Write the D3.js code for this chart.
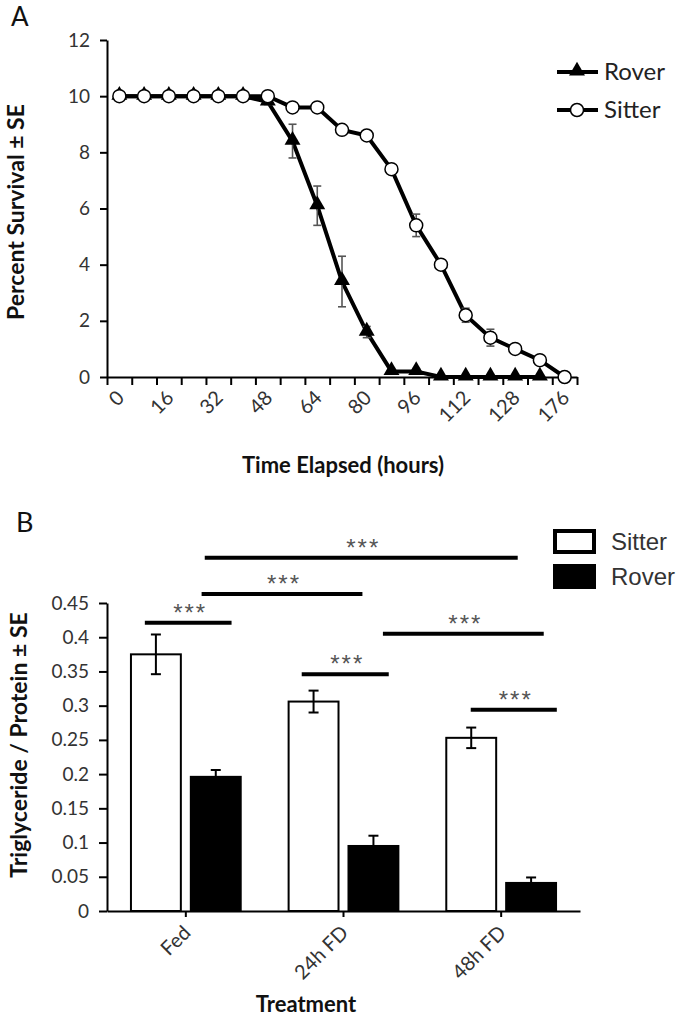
<!DOCTYPE html>
<html>
<head>
<meta charset="utf-8">
<script src="https://d3js.org/d3.v7.min.js"></script>
<style>
  body { margin: 0; background: #fff; }
  svg text { font-family: Lato, "Open Sans", sans-serif; }
  .tick text { fill: #333; }
  .axis path, .axis line { stroke: #000; stroke-width: 2; }
</style>
</head>
<body>
<svg id="chart" width="695" height="1020"></svg>
<script>
// ---- panel A: survival ----
var hourLabels = ["0", "16", "32", "48", "64", "80", "96", "112", "128", "176"]; // every 2nd category
var nTimes = 19;
var roverMean = [10, 10, 10, 10, 10, 10, 9.8, 8.4, 6.1, 3.4, 1.6, 0.2, 0.2, 0, 0, 0, 0, 0];
var roverSE   = [0, 0, 0, 0, 0, 0, 0.1, 0.6, 0.7, 0.9, 0.2, 0.1, 0.1, 0, 0, 0, 0, 0];
var sitterMean = [10, 10, 10, 10, 10, 10, 10, 9.6, 9.6, 8.8, 8.6, 7.4, 5.4, 4.0, 2.2, 1.4, 1.0, 0.6, 0];
var sitterSE   = [0, 0, 0, 0, 0, 0, 0, 0.1, 0.1, 0.1, 0.1, 0.15, 0.4, 0.15, 0.25, 0.3, 0.15, 0.1, 0];

// ---- panel B: triglyceride ----
var treatments = ["Fed", "24h FD", "48h FD"];
var strains = ["Sitter", "Rover"];
var sitterTG = [0.375, 0.306, 0.253];
var sitterTGse = [0.029, 0.016, 0.015];
var roverTG = [0.196, 0.095, 0.041];
var roverTGse = [0.010, 0.015, 0.008];
// significance bars: from / to in category units, height in data units
var sigFrom = [0.12, 0.10, -0.26, 0.735, 1.25, 1.807];
var sigTo   = [2.105, 1.12, 0.29, 1.287, 2.27, 2.353];
var sigY    = [0.516, 0.463, 0.421, 0.346, 0.405, 0.294];

var svg = d3.select("#chart");

// ================= A =================
var xA = d3.scaleLinear().domain([0, nTimes]).range([107, 577]);
var yA = d3.scaleLinear().domain([0, 12]).range([377, 40]);
var gA = svg.append("g");

gA.append("g").attr("class", "axis")
  .attr("transform", "translate(0," + yA(0) + ")")
  .call(d3.axisBottom(xA).tickValues(d3.range(nTimes + 1)).tickFormat("").tickSize(8).tickSizeOuter(0));

gA.append("g").attr("class", "axis")
  .attr("transform", "translate(" + xA(0) + ",0)")
  .call(d3.axisLeft(yA).ticks(6).tickSize(7).tickSizeOuter(0).tickPadding(10))
  .selectAll("text").style("font-size", "19px");

gA.selectAll(".xlab").data(hourLabels).enter().append("text")
  .attr("class", "xlab")
  .attr("transform", function (d, i) { return "translate(" + (xA(2 * i + 0.5) + 6) + ",399) rotate(-45)"; })
  .attr("text-anchor", "end")
  .style("font-size", "20px").style("fill", "#333")
  .text(function (d) { return d; });

var lineA = d3.line().x(function (d, i) { return xA(i + 0.5); }).y(function (d) { return yA(d); });

gA.append("path").datum(roverMean).attr("d", lineA)
  .attr("fill", "none").attr("stroke", "#000").attr("stroke-width", 4);
gA.append("path").datum(sitterMean).attr("d", lineA)
  .attr("fill", "none").attr("stroke", "#000").attr("stroke-width", 4);

function errA(mean, se) {
  var g = gA.append("g").attr("stroke", "#555").attr("stroke-width", 1.6);
  mean.forEach(function (m, i) {
    if (!se[i]) return;
    var x = xA(i + 0.5);
    g.append("line").attr("x1", x).attr("x2", x).attr("y1", yA(m - se[i])).attr("y2", yA(m + se[i]));
    g.append("line").attr("x1", x - 4).attr("x2", x + 4).attr("y1", yA(m - se[i])).attr("y2", yA(m - se[i]));
    g.append("line").attr("x1", x - 4).attr("x2", x + 4).attr("y1", yA(m + se[i])).attr("y2", yA(m + se[i]));
  });
}
errA(roverMean, roverSE);
errA(sitterMean, sitterSE);

var tri = d3.symbol().type(d3.symbolTriangle).size(110);
gA.selectAll(".tri").data(roverMean).enter().append("path")
  .attr("d", tri)
  .attr("transform", function (d, i) { return "translate(" + xA(i + 0.5) + "," + (yA(d) - 1) + ")"; })
  .attr("fill", "#000");
gA.selectAll(".circ").data(sitterMean).enter().append("circle")
  .attr("cx", function (d, i) { return xA(i + 0.5); })
  .attr("cy", function (d) { return yA(d); })
  .attr("r", 6.5)
  .attr("fill", "#fff").attr("stroke", "#000").attr("stroke-width", 1.5);

// legend A
var legA = gA.append("g");
legA.append("line").attr("x1", 557).attr("x2", 598).attr("y1", 72).attr("y2", 72).attr("stroke", "#000").attr("stroke-width", 4);
legA.append("path").attr("d", tri).attr("transform", "translate(577,71)");
legA.append("text").attr("x", 604).attr("y", 80).style("font-size", "24px").style("fill", "#222").text("Rover");
legA.append("line").attr("x1", 557).attr("x2", 598).attr("y1", 110).attr("y2", 110).attr("stroke", "#000").attr("stroke-width", 4);
legA.append("circle").attr("cx", 577).attr("cy", 110).attr("r", 6.5).attr("fill", "#fff").attr("stroke", "#000").attr("stroke-width", 1.5);
legA.append("text").attr("x", 604).attr("y", 118).style("font-size", "24px").style("fill", "#222").text("Sitter");

gA.append("text").attr("x", 11).attr("y", 26).style("font-size", "26px").style("fill", "#111").text("A");
gA.append("text").attr("transform", "translate(24,212) rotate(-90)").attr("text-anchor", "middle")
  .style("font-size", "23px").style("font-weight", "bold").style("fill", "#111").text("Percent Survival ± SE");
gA.append("text").attr("x", 343).attr("y", 473).attr("text-anchor", "middle")
  .style("font-size", "22px").style("font-weight", "bold").style("fill", "#111").text("Time Elapsed (hours)");

// ================= B =================
var xB = d3.scaleBand().domain(treatments).range([107, 580]);
var xSub = d3.scaleBand().domain(strains).range([0, xB.bandwidth()]).paddingInner(1 / 6).paddingOuter(0.4);
var xPos = d3.scaleLinear().domain([-0.5, treatments.length - 0.5]).range([107, 580]);
var yB = d3.scaleLinear().domain([0, 0.45]).range([911, 603]);
var gB = svg.append("g");

var rows = [];
treatments.forEach(function (t, i) {
  rows.push({ t: t, s: "Sitter", v: sitterTG[i], e: sitterTGse[i] });
  rows.push({ t: t, s: "Rover", v: roverTG[i], e: roverTGse[i] });
});

gB.selectAll(".bar").data(rows).enter().append("rect")
  .attr("x", function (d) { return xB(d.t) + xSub(d.s); })
  .attr("y", function (d) { return yB(d.v); })
  .attr("width", xSub.bandwidth())
  .attr("height", function (d) { return yB(0) - yB(d.v); })
  .attr("fill", function (d) { return d.s == "Sitter" ? "#fff" : "#000"; })
  .attr("stroke", "#000").attr("stroke-width", 2);

var eg = gB.append("g").attr("stroke", "#000").attr("stroke-width", 2);
rows.forEach(function (d) {
  var x = xB(d.t) + xSub(d.s) + xSub.bandwidth() / 2;
  eg.append("line").attr("x1", x).attr("x2", x).attr("y1", yB(d.v - d.e)).attr("y2", yB(d.v + d.e));
  eg.append("line").attr("x1", x - 5).attr("x2", x + 5).attr("y1", yB(d.v + d.e)).attr("y2", yB(d.v + d.e));
  eg.append("line").attr("x1", x - 5).attr("x2", x + 5).attr("y1", yB(d.v - d.e)).attr("y2", yB(d.v - d.e));
});

gB.append("g").attr("class", "axis")
  .attr("transform", "translate(0," + yB(0) + ")")
  .call(d3.axisBottom(xB).tickSize(6).tickSizeOuter(0).tickFormat(""));
gB.append("g").attr("class", "axis")
  .attr("transform", "translate(" + xB.range()[0] + ",0)")
  .call(d3.axisLeft(yB).tickValues(d3.range(0, 0.451, 0.05)).tickFormat(d3.format("~g")).tickSize(8).tickSizeOuter(0).tickPadding(10))
  .selectAll("text").style("font-size", "19px");

gB.selectAll(".tlab").data(treatments).enter().append("text")
  .attr("transform", function (d) { return "translate(" + (xB(d) + xB.bandwidth() / 2 + 6) + ",934) rotate(-45)"; })
  .attr("text-anchor", "end")
  .style("font-size", "20px").style("fill", "#333")
  .text(function (d) { return d; });

// significance
sigY.forEach(function (y, i) {
  var x1 = xPos(sigFrom[i]), x2 = xPos(sigTo[i]);
  gB.append("line").attr("x1", x1).attr("x2", x2).attr("y1", yB(y)).attr("y2", yB(y))
    .attr("stroke", "#000").attr("stroke-width", 4);
  gB.append("text").attr("x", (x1 + x2) / 2 + 2).attr("y", yB(y) - 2)
    .attr("text-anchor", "middle")
    .style("font-family", "'Liberation Sans', Arial, sans-serif")
    .style("font-size", "24px").style("letter-spacing", "2px").style("fill", "#555")
    .text("***");
});

// legend B
var legB = gB.append("g");
legB.append("rect").attr("x", 555).attr("y", 531).attr("width", 39).attr("height", 21)
  .attr("fill", "#fff").attr("stroke", "#000").attr("stroke-width", 4);
legB.append("rect").attr("x", 553).attr("y", 564).attr("width", 43).attr("height", 25).attr("fill", "#000");
legB.append("text").attr("x", 611).attr("y", 550).style("font-family", "'Liberation Sans', Arial, sans-serif")
  .style("font-size", "24px").style("fill", "#333").text("Sitter");
legB.append("text").attr("x", 611).attr("y", 585).style("font-family", "'Liberation Sans', Arial, sans-serif")
  .style("font-size", "24px").style("fill", "#333").text("Rover");

gB.append("text").attr("x", 16).attr("y", 532).style("font-size", "27px").style("fill", "#111").text("B");
gB.append("text").attr("transform", "translate(27,745) rotate(-90)").attr("text-anchor", "middle")
  .style("font-size", "23px").style("font-weight", "bold").style("fill", "#111").text("Triglyceride / Protein ± SE");
gB.append("text").attr("x", 306).attr("y", 1012).attr("text-anchor", "middle")
  .style("font-size", "22px").style("font-weight", "bold").style("fill", "#111").text("Treatment");
</script>
</body>
</html>
